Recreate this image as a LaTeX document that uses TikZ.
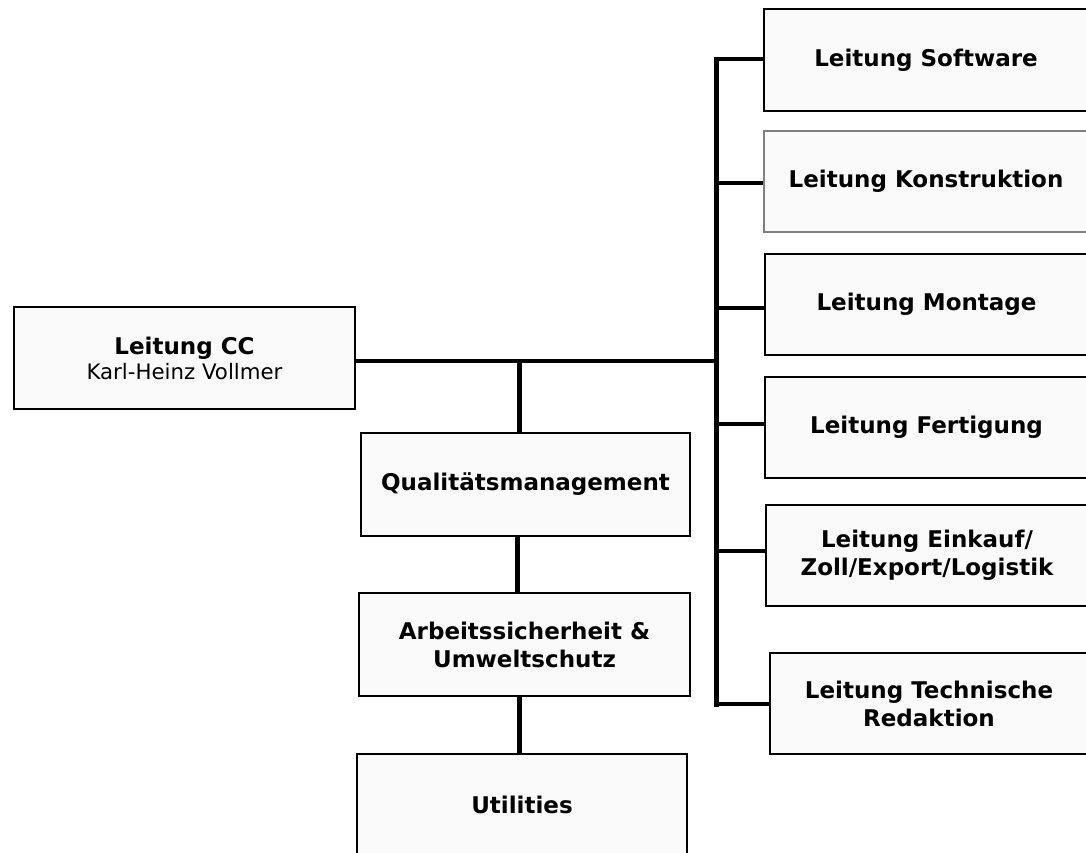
\documentclass[tikz,border=0pt]{standalone}
\usepackage{fontspec}
\setmainfont{DejaVu Sans}
\definecolor{boxfill}{HTML}{FAFAFA}
\definecolor{thinedge}{HTML}{808080}
\tikzset{
  orgbox/.style={draw=black, line width=2pt, fill=boxfill, inner sep=0pt, align=center,
    font=\fontsize{23}{28}\selectfont\bfseries},
  graybox/.style={orgbox, draw=thinedge, line width=1.5pt},
  link/.style={draw=black, line width=4.5pt}
}
\begin{document}
\begin{tikzpicture}[x=1pt,y=-1pt]
\path[use as bounding box, clip] (0,0) rectangle (1086,852);
\fill[white] (0,0) rectangle (1086,852);
% left column
\node[orgbox, minimum width=341pt, minimum height=102pt] (cc) at (184.5,358)
  {Leitung CC\\[-3pt]{\mdseries\fontsize{21.3}{26}\selectfont Karl-Heinz Vollmer}};
\node[orgbox, minimum width=329pt, minimum height=103pt] (qual) at (525.5,484.5) {Qualitätsmanagement};
\node[orgbox, minimum width=331pt, minimum height=103pt] (arb) at (524.5,644.5) {Arbeitssicherheit \&\\Umweltschutz};
\node[orgbox, minimum width=330pt, minimum height=102pt] (util) at (522,805) {Utilities};
% right column
\node[orgbox, minimum width=324pt, minimum height=102pt] (soft) at (926,60) {Leitung Software};
\node[graybox, minimum width=324pt, minimum height=101pt] (konst) at (926,181.5) {Leitung Konstruktion};
\node[orgbox, minimum width=323pt, minimum height=101pt] (mont) at (926.5,304.5) {Leitung Montage};
\node[orgbox, minimum width=323pt, minimum height=101pt] (fert) at (926.5,427.5) {Leitung Fertigung};
\node[orgbox, minimum width=322pt, minimum height=101pt] (eink) at (927,555.5) {Leitung Einkauf/\\Zoll/Export/Logistik};
\node[orgbox, minimum width=318pt, minimum height=101pt] (tech) at (929,703.5) {Leitung Technische\\Redaktion};
% connectors
\coordinate (btop) at (716.5,56.5);
\coordinate (bbot) at (716.5,706.5);
\coordinate (jmain) at (716.5,361);
\coordinate (jq) at (519.5,361);
\coordinate (kq) at (517.5,0);
\coordinate (ku) at (519.5,0);
\draw[link] (btop) -- (bbot);
\draw[link] (cc.east |- jmain) -- (jmain);
\draw[link] (btop |- 0,59) -- (soft.west |- 0,59);
\draw[link] (btop |- 0,183) -- (konst.west |- 0,183);
\draw[link] (btop |- 0,308) -- (mont.west |- 0,308);
\draw[link] (btop |- 0,424) -- (fert.west |- 0,424);
\draw[link] (btop |- 0,551) -- (eink.west |- 0,551);
\draw[link] (btop |- 0,704) -- (tech.west |- 0,704);
\draw[link] (jq) -- (jq |- qual.north);
\draw[link] (qual.south -| kq) -- (arb.north -| kq);
\draw[link] (arb.south -| ku) -- (util.north -| ku);
\end{tikzpicture}
\end{document}
